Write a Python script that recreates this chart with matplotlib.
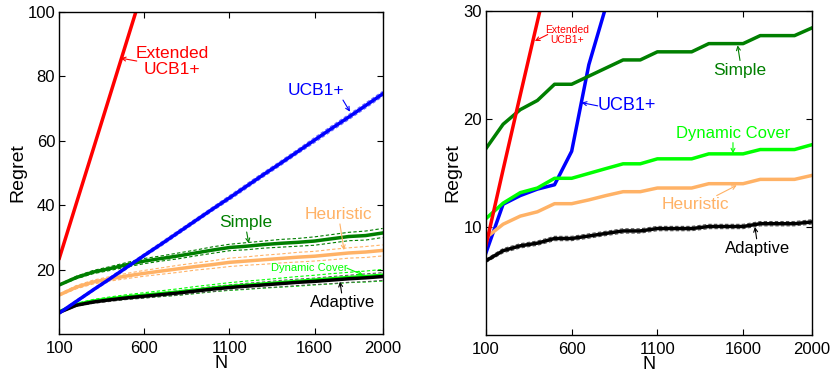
import matplotlib
matplotlib.use('Agg')
import matplotlib.pyplot as plt
import numpy as np

plt.rcParams['font.family'] = ['Liberation Sans', 'DejaVu Sans']

# ---- data ----
N = [100, 200, 300, 400, 500, 600, 700, 800, 900, 1000,
     1100, 1200, 1300, 1400, 1500, 1600, 1700, 1800, 1900, 2000]

# left panel
L_ext_N = [100, 200, 300, 400, 500, 600]
L_ext = [23.6, 40.6, 57.5, 74.5, 91.5, 108.5]
L_ucb = [6.6, 10.2, 13.8, 17.3, 20.9, 24.5, 28.0, 31.6, 35.2, 38.8,
         42.3, 45.9, 49.5, 53.0, 56.6, 60.2, 63.8, 67.3, 70.9, 74.5]
L_simple = [15.3, 17.6, 19.3, 20.4, 21.6, 22.7, 23.5, 24.3, 25.2, 26.1,
            26.9, 27.3, 27.8, 28.2, 28.5, 28.9, 29.6, 30.3, 30.6, 31.4]
L_heur = [12.2, 14.6, 16.2, 17.2, 18.1, 18.9, 19.6, 20.3, 21.0, 21.6,
          22.3, 22.7, 23.1, 23.5, 23.9, 24.2, 24.7, 25.2, 25.5, 26.0]
L_dyn = [7.0, 9.2, 10.3, 11.0, 11.6, 12.1, 12.6, 13.1, 13.7, 14.3,
         14.8, 15.2, 15.6, 16.0, 16.4, 16.8, 17.2, 17.6, 17.9, 18.3]
L_adapt = [6.8, 9.0, 10.0, 10.7, 11.3, 11.8, 12.3, 12.8, 13.4, 14.0,
           14.5, 14.9, 15.3, 15.7, 16.1, 16.4, 16.8, 17.2, 17.5, 17.9]
# half widths of the dashed bands
L_ucb_err = [0.3, 0.4, 0.4, 0.5, 0.5, 0.5, 0.6, 0.6, 0.6, 0.6,
             0.7, 0.7, 0.7, 0.7, 0.7, 0.8, 0.8, 0.8, 0.8, 0.8]
L_simple_err = [0.2, 0.4, 0.5, 0.6, 0.7, 0.8, 0.8, 0.9, 0.9, 1.0,
                1.0, 1.1, 1.1, 1.2, 1.2, 1.3, 1.3, 1.3, 1.4, 1.4]
L_heur_err = [0.3, 0.5, 0.6, 0.7, 0.8, 0.9, 1.0, 1.1, 1.1, 1.2,
              1.3, 1.3, 1.4, 1.4, 1.5, 1.5, 1.6, 1.6, 1.7, 1.7]
L_dyn_err = [0.2, 0.4, 0.5, 0.6, 0.7, 0.8, 0.9, 1.0, 1.1, 1.1,
             1.2, 1.3, 1.3, 1.4, 1.5, 1.5, 1.6, 1.6, 1.7, 1.8]
L_adapt_err = [0.2, 0.3, 0.4, 0.5, 0.5, 0.6, 0.6, 0.7, 0.7, 0.8,
               0.8, 0.9, 0.9, 1.0, 1.0, 1.0, 1.1, 1.1, 1.2, 1.2]

# right panel
R_ext_N = [100, 200, 300, 400, 500]
R_ext = [8.3, 15.3, 22.2, 29.0, 35.8]
R_ucb_N = [100, 200, 300, 400, 500, 600, 700, 800, 900]
R_ucb = [7.6, 12.1, 12.9, 13.5, 13.9, 17.0, 25.0, 30.4, 36.0]
R_simple = [17.25, 19.5, 20.85, 21.7, 23.2, 23.2, 23.95, 24.7, 25.45, 25.45,
            26.2, 26.2, 26.2, 26.96, 26.96, 26.96, 27.7, 27.7, 27.7, 28.4]
R_dyn = [10.77, 12.2, 13.17, 13.6, 14.5, 14.5, 14.95, 15.4, 15.84, 15.84,
         16.3, 16.3, 16.3, 16.76, 16.76, 16.76, 17.16, 17.16, 17.16, 17.6]
R_heur = [9.0, 10.25, 11.0, 11.4, 12.15, 12.15, 12.5, 12.9, 13.26, 13.26,
          13.6, 13.6, 13.6, 14.0, 14.0, 14.0, 14.4, 14.4, 14.4, 14.76]
R_adapt = [6.87, 7.8, 8.25, 8.5, 8.93, 8.93, 9.16, 9.4, 9.63, 9.63,
           9.85, 9.85, 9.85, 10.04, 10.04, 10.04, 10.3, 10.3, 10.3, 10.46]
R_adapt_err = [0.15, 0.2, 0.2, 0.2, 0.2, 0.2, 0.2, 0.2, 0.2, 0.2,
               0.2, 0.2, 0.2, 0.2, 0.2, 0.2, 0.2, 0.2, 0.2, 0.2]

RED = '#ff0000'
BLUE = '#0000ff'
DGREEN = '#007f00'
LIME = '#00ff00'
ORANGE = '#ffb266'
BLACK = '#000000'

fig = plt.figure(figsize=(8.3, 3.71), dpi=100)
ax1 = fig.add_axes([0.0715, 0.099, 0.3895, 0.8695])
ax2 = fig.add_axes([0.5855, 0.097, 0.3924, 0.874])


def band(ax, y, err, color):
    y = np.array(y)
    e = np.array(err)
    ax.plot(N, y + e, '--', color=color, lw=0.8, dashes=(3, 2))
    ax.plot(N, y - e, '--', color=color, lw=0.8, dashes=(3, 2))


def arrow(ax, tail, head, color):
    ax.annotate('', xy=head, xytext=tail,
                arrowprops=dict(arrowstyle='->', color=color, lw=0.8,
                                shrinkA=0, shrinkB=0, mutation_scale=7))


def style(ax, ylim, yticks):
    ax.set_xlim(100, 2000)
    ax.set_ylim(*ylim)
    ax.set_xticks([100, 600, 1100, 1600, 2000])
    ax.set_yticks(yticks)
    ax.tick_params(direction='in', top=True, right=True, length=4,
                   labelsize=12, width=0.8)
    ax.tick_params(axis='y', pad=3)
    ax.tick_params(axis='x', pad=5)
    ax.set_xlabel('N', fontsize=13, labelpad=-1)
    ax.set_ylabel('Regret', fontsize=14, labelpad=1)
    for s in ax.spines.values():
        s.set_linewidth(1.0)


# ---- left panel ----
lw = 2.5
band(ax1, L_ucb, L_ucb_err, '#7070ff')
band(ax1, L_simple, L_simple_err, DGREEN)
band(ax1, L_heur, L_heur_err, ORANGE)
band(ax1, L_dyn, L_dyn_err, LIME)
band(ax1, L_adapt, L_adapt_err, '#555555')
ax1.plot(N, L_simple, color=DGREEN, lw=lw)
ax1.plot(N, L_heur, color=ORANGE, lw=lw)
ax1.plot(N, L_dyn, color=LIME, lw=lw)
ax1.plot(N, L_adapt, color=BLACK, lw=lw)
ax1.plot(N, L_ucb, color=BLUE, lw=lw)
ax1.plot(L_ext_N, L_ext, color=RED, lw=lw)
style(ax1, (0, 100), [20, 40, 60, 80, 100])

ax1.text(762, 84.5, 'Extended\nUCB1+', color=RED, fontsize=12.5,
         ha='center', va='center', linespacing=1.1)
arrow(ax1, (555, 84.7), (461, 85.6), RED)
ax1.text(1608, 75.5, 'UCB1+', color=BLUE, fontsize=12.5, ha='center', va='center')
arrow(ax1, (1767, 72.6), (1808, 69.0), BLUE)
ax1.text(1198, 34.5, 'Simple', color=DGREEN, fontsize=12.5, ha='center', va='center')
arrow(ax1, (1201, 31.7), (1213, 28.2), DGREEN)
ax1.text(1743, 37.0, 'Heuristic', color=ORANGE, fontsize=12.5, ha='center', va='center')
arrow(ax1, (1749, 34.2), (1773, 26.1), ORANGE)
ax1.text(1568, 20.6, 'Dynamic Cover', color=LIME, fontsize=8, ha='center', va='center')
arrow(ax1, (1790, 20.5), (1884, 18.4), LIME)
ax1.text(1765, 9.8, 'Adaptive', color=BLACK, fontsize=12, ha='center', va='center')
arrow(ax1, (1759, 12.8), (1749, 16.3), BLACK)

# ---- right panel ----
band(ax2, R_adapt, R_adapt_err, '#555555')
ax2.plot(R_ucb_N, R_ucb, color=BLUE, lw=lw)
ax2.plot(N, R_simple, color=DGREEN, lw=lw)
ax2.plot(N, R_heur, color=ORANGE, lw=lw)
ax2.plot(N, R_dyn, color=LIME, lw=lw)
ax2.plot(N, R_adapt, color=BLACK, lw=lw)
ax2.plot(R_ext_N, R_ext, color=RED, lw=lw)
style(ax2, (0, 30), [10, 20, 30])

ax2.text(571, 27.75, 'Extended\nUCB1+', color=RED, fontsize=7.5,
         ha='center', va='center', linespacing=1.1)
arrow(ax2, (460, 27.8), (385, 27.2), RED)
ax2.text(753, 21.2, 'UCB1+', color=BLUE, fontsize=13, ha='left', va='center')
arrow(ax2, (752, 21.2), (658, 21.5), BLUE)
ax2.text(1582, 24.5, 'Simple', color=DGREEN, fontsize=12.5, ha='center', va='center')
arrow(ax2, (1582, 25.4), (1568, 26.8), DGREEN)
ax2.text(1543, 18.65, 'Dynamic Cover', color=LIME, fontsize=12, ha='center', va='center')
arrow(ax2, (1541, 17.8), (1541, 16.8), LIME)
ax2.text(1323, 12.05, 'Heuristic', color=ORANGE, fontsize=12.5, ha='center', va='center')
arrow(ax2, (1446, 12.9), (1563, 13.85), ORANGE)
ax2.text(1685, 8.0, 'Adaptive', color=BLACK, fontsize=12, ha='center', va='center')
arrow(ax2, (1679, 8.9), (1669, 10.0), BLACK)

fig.savefig('out.png', dpi=100)
